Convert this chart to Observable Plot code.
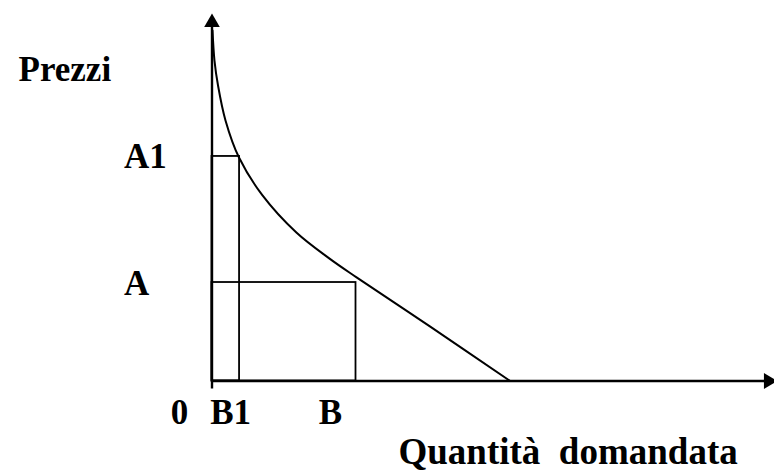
<!DOCTYPE html>
<html>
<head>
<meta charset="utf-8">
<script src="https://cdn.jsdelivr.net/npm/d3@7"></script>
<script src="https://cdn.jsdelivr.net/npm/@observablehq/plot@0.6"></script>
<style>
  html, body { margin: 0; padding: 0; background: #fff; }
  svg text { white-space: pre; }
</style>
</head>
<body>
<div id="chart"></div>
<script>
// Demand curve (quantity, price)
const quantity = [0.09, 0.44, 1.07, 2.4, 4.8, 8.98, 15.0, 20.9, 25.7, 38.8, 53.0];
const price    = [95.4, 87.2, 80.4, 70.9, 60.8, 50.5, 40.4, 33.3, 28.2, 14.8, 0];

// Marked points
const B1 = 4.9, B = 25.6;     // quantities
const A1 = 61.1, A = 26.8;    // prices

// Axis domains
const xDomain = [0, 100];
const yDomain = [0, 100];

// Tick labels
const xTicks = [0, B1, B];
const xTickLabels = ["0", "B1", "B"];
const yTicks = [A1, A];
const yTickLabels = ["A1", "A"];

const yTitle = "Prezzi";
const xTitle = "Quantità  domandata";

const curve = quantity.map((q, i) => ({q, p: price[i]}));
const rects = [{x2: B1, y2: A1}, {x2: B, y2: A}];
const yLab = yTicks.map((v, i) => ({v, t: yTickLabels[i]}));
const xDx = [-32.5, -9, -25.5];

const font = {fontFamily: "Liberation Serif", fontWeight: "bold", fontSize: 35, fill: "#000"};

const chart = Plot.plot({
  width: 774,
  height: 470,
  marginLeft: 211.5,
  marginRight: 0,
  marginTop: 13,
  marginBottom: 89.5,
  style: {background: "#fff", overflow: "visible"},
  x: {domain: xDomain, axis: null},
  y: {domain: yDomain, axis: null},
  marks: [
    // rectangles
    Plot.rect(rects, {x1: 0, y1: 0, x2: "x2", y2: "y2", fill: "none", stroke: "#000", strokeWidth: 1.8}),
    // demand curve
    Plot.line(curve, {x: "q", y: "p", curve: "catmull-rom", stroke: "#000", strokeWidth: 2}),
    // axes
    Plot.ruleX([xDomain[0]], {y1: yDomain[0], y2: yDomain[1], stroke: "#000", strokeWidth: 2.4, insetBottom: -4.5, insetTop: 8}),
    Plot.ruleY([yDomain[0]], {x1: xDomain[0], x2: xDomain[1], stroke: "#000", strokeWidth: 2.4, insetRight: 8}),
    // arrowheads
    Plot.dot([0], {x: () => xDomain[0], y: () => yDomain[1], symbol: "triangle", r: 5.8, fill: "#000", dy: 9}),
    Plot.dot([0], {x: () => xDomain[1], y: () => yDomain[0], symbol: "triangle", r: 5.9, fill: "#000", rotate: 90, dx: -6}),
    // x tick labels
    ...xTicks.map((v, i) => Plot.text([xTickLabels[i]], {x: () => v, y: () => yDomain[0], text: d => d, ...font,
      textAnchor: "middle", lineAnchor: "bottom", dx: xDx[i], dy: 42.5})),
    // y tick labels
    Plot.text(yLab, {x: () => xDomain[0], y: "v", text: "t", ...font, textAnchor: "start", lineAnchor: "bottom", dx: -88, dy: 12}),
    // axis titles
    Plot.text([yTitle], {frameAnchor: "top-left", text: d => d, ...font, textAnchor: "start", lineAnchor: "bottom", dx: -193.5, dy: 67}),
    Plot.text([xTitle], {frameAnchor: "bottom-left", text: d => d, ...font, fontSize: 37, textAnchor: "start", lineAnchor: "bottom", dx: 186.5, dy: 82.5})
  ]
});
document.getElementById("chart").appendChild(chart);
</script>
</body>
</html>
